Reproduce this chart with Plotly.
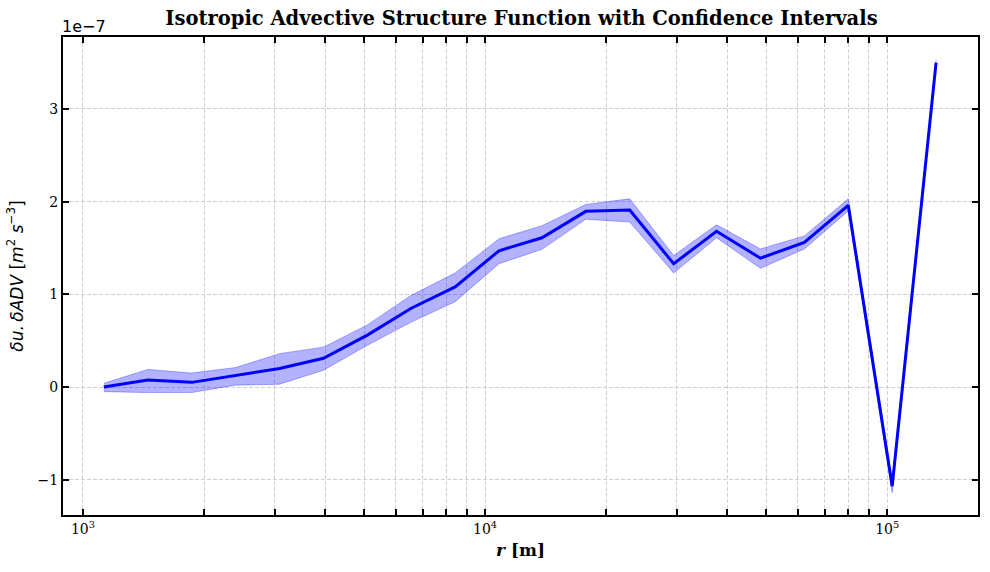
import plotly.graph_objects as go

# separation distance r [m]
r_vals = [1127, 1450, 1864, 2397, 3082, 3963, 5096, 6553, 8425, 10832,
          13848, 17807, 22896, 29440, 37638, 48398, 62230, 80015, 102900, 132300]
# structure function values in units of 1e-7 m^2 s^-3
sf_vals = [0.0, 0.075, 0.05, 0.125, 0.2, 0.31, 0.56, 0.85, 1.08, 1.47,
           1.61, 1.895, 1.91, 1.33, 1.68, 1.39, 1.56, 1.96, -1.07, 3.50]
ci_lower = [-0.05, -0.06, -0.06, 0.02, 0.03, 0.18, 0.45, 0.70, 0.92, 1.33,
            1.485, 1.81, 1.78, 1.23, 1.61, 1.28, 1.49, 1.90, -1.14, 3.47]
ci_upper = [0.04, 0.19, 0.15, 0.21, 0.36, 0.43, 0.67, 0.99, 1.23, 1.60,
            1.74, 1.97, 2.03, 1.42, 1.75, 1.49, 1.63, 2.03, -1.01, 3.53]

x_major = [1e3, 1e4, 1e5]
x_major_text = ["10<sup>3</sup>", "10<sup>4</sup>", "10<sup>5</sup>"]
x_minor = [2e3, 3e3, 4e3, 5e3, 6e3, 7e3, 8e3, 9e3,
           2e4, 3e4, 4e4, 5e4, 6e4, 7e4, 8e4, 9e4]
y_ticks = [-1, 0, 1, 2, 3]
y_tick_text = ["\u22121", "0", "1", "2", "3"]

SERIF = "DejaVu Serif"
grid_col = "#cfcfcf"
DASH = "4px,2px"

fig = go.Figure()
fig.add_trace(go.Scatter(x=r_vals, y=ci_lower, mode="lines",
                         line=dict(color="rgba(0,0,255,0.3)", width=1),
                         showlegend=False, hoverinfo="skip"))
fig.add_trace(go.Scatter(x=r_vals, y=ci_upper, mode="lines", fill="tonexty",
                         fillcolor="rgba(0,0,255,0.3)",
                         line=dict(color="rgba(0,0,255,0.3)", width=1),
                         showlegend=False, hoverinfo="skip"))
fig.add_trace(go.Scatter(x=r_vals, y=sf_vals, mode="lines",
                         line=dict(color="blue", width=3),
                         showlegend=False))

axis_common = dict(showline=True, linewidth=2, linecolor="black", mirror="allticks",
                   ticks="inside", ticklen=6, tickwidth=2, tickcolor="black",
                   showgrid=True, gridcolor=grid_col, griddash=DASH, gridwidth=1,
                   zeroline=False, tickfont=dict(family=SERIF, size=14, color="black"))

fig.update_layout(
    width=990, height=572,
    margin=dict(l=63, r=10, t=37, b=57),
    plot_bgcolor="white", paper_bgcolor="white",
    title=dict(text="<b>Isotropic Advective Structure Function with Confidence Intervals</b>",
               x=(63 + 980) / 2 / 990, xanchor="center", y=1 - 18 / 572, yanchor="middle",
               font=dict(family=SERIF, size=19.5, color="black")),
    xaxis=dict(type="log", range=[2.9504, 5.2258],
               tickmode="array", tickvals=x_major, ticktext=x_major_text,
               minor=dict(tickmode="array", tickvals=x_minor, ticks="inside", ticklen=6,
                          tickwidth=2, tickcolor="black", showgrid=True,
                          gridcolor=grid_col, griddash=DASH, gridwidth=1),
               title=dict(text="<b><i>r</i> [m]</b>", standoff=8,
                          font=dict(family=SERIF, size=17, color="black")),
               **axis_common),
    yaxis=dict(range=[-1.381, 3.776], tickmode="array", tickvals=y_ticks,
               ticktext=y_tick_text,
               title=dict(text="<i>\u03b4u.\u2009\u03b4ADV</i> [<i>m</i><sup>2</sup> <i>s</i><sup>\u22123</sup>]",
                          standoff=10, font=dict(family="DejaVu Sans", size=17, color="black")),
               **axis_common),
    annotations=[dict(text="1e\u22127", xref="paper", yref="paper", x=0, y=1,
                      xanchor="left", yanchor="bottom", xshift=-3, yshift=-1, showarrow=False,
                      font=dict(family="DejaVu Sans", size=16, color="black"))],
)

fig.write_html("out.html")
